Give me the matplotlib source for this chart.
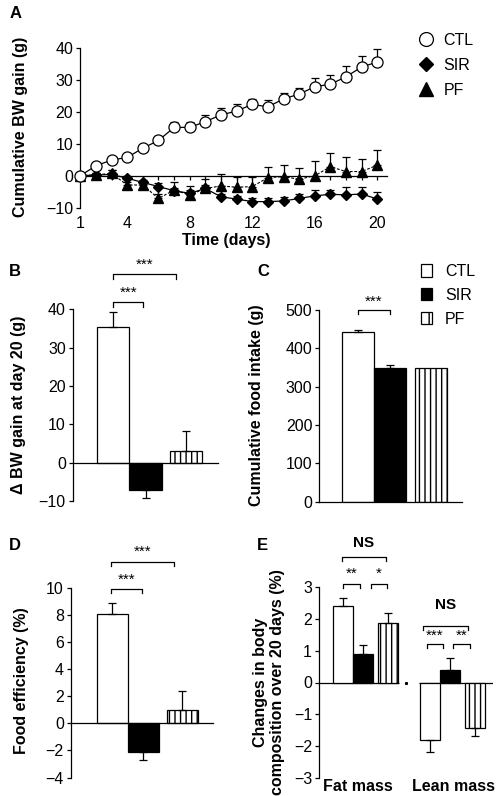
import numpy as np
import matplotlib
matplotlib.use("Agg")
import matplotlib.pyplot as plt
from matplotlib.lines import Line2D
from matplotlib.patches import Patch

plt.rcParams['font.family'] = ['Liberation Sans', 'DejaVu Sans']
plt.rcParams['hatch.linewidth'] = 1.0

# ---------------- data ----------------
days = list(range(1, 21))
day_ticks = [1, 4, 8, 12, 16, 20]
ctl_gain = [0, 3.1, 4.9, 5.7, 8.6, 11.0, 15.1, 15.1, 16.9, 19.0, 20.2, 22.3, 21.5, 24.0, 25.5, 27.8, 28.6, 30.9, 34.0, 35.5]
ctl_err = [0.3, 0.6, 0.6, 0.7, 0.9, 1.4, 1.7, 1.7, 2.2, 2.0, 2.2, 1.7, 2.0, 1.8, 2.0, 2.8, 2.8, 3.5, 3.5, 4.0]
sir_gain = [0, 0.2, 0.4, -0.8, -2.1, -3.4, -4.7, -5.5, -4.0, -6.6, -7.3, -8.1, -8.1, -7.9, -7.1, -6.3, -5.8, -6.0, -5.7, -7.3]
sir_err = [0.3, 0.5, 1.4, 0.8, 0.8, 1.0, 1.0, 1.0, 1.0, 1.0, 1.0, 1.0, 1.2, 1.3, 1.3, 1.8, 1.3, 2.4, 2.1, 2.1]
pf_gain = [0, 0.3, 0.7, -2.9, -2.9, -7.1, -4.5, -6.0, -4.0, -3.2, -3.6, -3.4, -0.6, -0.3, -1.1, 0.0, 2.8, 1.3, 1.3, 3.3]
pf_err = [0.3, 0.5, 1.0, 1.0, 1.0, 1.5, 2.6, 2.9, 3.0, 3.6, 3.3, 3.1, 3.4, 3.7, 3.4, 4.6, 4.2, 4.4, 3.9, 4.7]

groups = ['CTL', 'SIR', 'PF']
bw_day20 = [35.5, -7.1, 3.1]
bw_day20_err = [3.8, 2.2, 5.1]
food_intake = [442, 349, 349]
food_intake_err = [7, 7, 0]
food_eff = [8.04, -2.09, 0.98]
food_eff_err = [0.81, 0.61, 1.42]
comp_cats = ['Fat mass', 'Lean mass']
fat_change = [2.39, 0.90, 1.86]
fat_change_err = [0.27, 0.28, 0.33]
lean_change = [-1.81, 0.39, -1.41]
lean_change_err = [0.38, 0.39, 0.28]

# ---------------- layout helpers ----------------
W, H = 502, 796
fig = plt.figure(figsize=(W / 100, H / 100), dpi=100)


def rect(l, t, r, b):
    return [l / W, 1 - b / H, (r - l) / W, (b - t) / H]


def fx(x):
    return x / W


def fy(y):
    return 1 - y / H


LW = 0.9
TICK_FS = 11.5
LAB_FS = 11.5
STAR_FS = 11


def style_axes(ax):
    for s in ['top', 'right']:
        ax.spines[s].set_visible(False)
    for s in ['left', 'bottom']:
        ax.spines[s].set_linewidth(LW)
    ax.tick_params(axis='y', direction='out', length=3, width=LW, labelsize=TICK_FS, pad=2)


def oneway_err(vals, errs):
    lo = [e if v < 0 else 0 for v, e in zip(vals, errs)]
    hi = [e if v >= 0 else 0 for v, e in zip(vals, errs)]
    return [lo, hi]


def bars(ax, pos, vals, errs):
    styles = [dict(facecolor='white', hatch=None),
              dict(facecolor='black', hatch=None),
              dict(facecolor='white', hatch='|||')]
    for p, v, e, st in zip(pos, vals, errs, styles):
        ax.bar(p, v, width=1.0, color=st['facecolor'], edgecolor='black',
               linewidth=LW, hatch=st['hatch'], zorder=2)
        if e > 0:
            yerr = oneway_err([v], [e])
            ax.errorbar(p, v, yerr=[[yerr[0][0]], [yerr[1][0]]], fmt='none',
                        ecolor='black', elinewidth=LW, capsize=3, capthick=LW, zorder=3)


def bracket(ax, x0, x1, y, drop, label, ty, fs=STAR_FS, bold=False):
    ax.plot([x0, x0, x1, x1], [y - drop, y, y, y - drop], color='black', lw=LW,
            clip_on=False, zorder=4)
    ax.text((x0 + x1) / 2, ty, label, ha='center', va='center', fontsize=fs,
            fontweight='bold' if bold else 'normal', clip_on=False)


# ---------------- Panel A ----------------
axA = fig.add_axes(rect(80.3, 47.7, 386.7, 207.7))
style_axes(axA)
axA.spines['bottom'].set_position(('data', 0))
axA.set_xlim(1, 20.6)
axA.set_ylim(-10, 40)
axA.set_yticks([-10, 0, 10, 20, 30, 40])
axA.set_xticks(days)
axA.tick_params(axis='x', which='both', direction='out', length=3, width=LW,
                labelbottom=False)
for d in day_ticks:
    axA.text(d, -0.055, str(d), transform=axA.get_xaxis_transform(), ha='center', va='top',
             fontsize=TICK_FS)
axA.errorbar(days, pf_gain, yerr=oneway_err([1] * 20, pf_err), fmt='^--', color='black',
             mfc='black', mec='black', ms=7, lw=0.8, dashes=(2.5, 1.5),
             elinewidth=LW, capsize=3, capthick=LW, zorder=3, clip_on=False)
axA.errorbar(days, sir_gain, yerr=oneway_err([1] * 20, sir_err), fmt='D-', color='black',
             mfc='black', mec='black', ms=5.5, lw=LW,
             elinewidth=LW, capsize=3, capthick=LW, zorder=4, clip_on=False)
axA.errorbar(days, ctl_gain, yerr=oneway_err([1] * 20, ctl_err), fmt='o-', color='black',
             mfc='white', mec='black', ms=8, mew=LW, lw=LW,
             elinewidth=LW, capsize=3, capthick=LW, zorder=5, clip_on=False)
fig.text(fx(226), fy(240), 'Time (days)', ha='center', va='center',
         fontsize=LAB_FS, fontweight='bold')
fig.text(fx(21), fy(127), 'Cumulative BW gain (g)', rotation=90, ha='center', va='center',
         fontsize=LAB_FS, fontweight='bold')

legA = [Line2D([], [], marker='o', ls='none', mfc='white', mec='black', ms=10, mew=LW),
        Line2D([], [], marker='D', ls='none', mfc='black', mec='black', ms=7),
        Line2D([], [], marker='^', ls='none', mfc='black', mec='black', ms=10)]
fig.legend(legA, groups, loc='upper left', bbox_to_anchor=(fx(418), fy(33)),
           frameon=False, fontsize=11.5, borderpad=0, borderaxespad=0,
           handlelength=1.0, handletextpad=0.6, labelspacing=0.62)

# ---------------- Panel B ----------------
posB = [0, 1, 2.25]
axB = fig.add_axes(rect(72.7, 309.3, 218, 501))
style_axes(axB)
axB.spines['bottom'].set_position(('data', 0))
axB.set_xlim(-1.24, 3.23)
axB.set_ylim(-10, 40)
axB.set_yticks([-10, 0, 10, 20, 30, 40])
axB.set_xticks([])
bars(axB, posB, bw_day20, bw_day20_err)
bracket(axB, 0, 0.93, 42.0, 1.3, '***', 44.4)
bracket(axB, 0, 1.94, 49.2, 1.3, '***', 51.7)
fig.text(fx(19), fy(405), '\u0394 BW gain at day 20 (g)', rotation=90, ha='center', va='center',
         fontsize=LAB_FS, fontweight='bold')

# ---------------- Panel C ----------------
axC = fig.add_axes(rect(319.3, 310, 461.7, 501.7))
style_axes(axC)
axC.set_xlim(-1.2, 3.21)
axC.set_ylim(0, 500)
axC.set_yticks([0, 100, 200, 300, 400, 500])
axC.set_xticks([])
bars(axC, posB, food_intake, food_intake_err)
bracket(axC, 0, 0.99, 500.5, 10.5, '***', 522)
fig.text(fx(257), fy(405), 'Cumulative food intake (g)', rotation=90, ha='center', va='center',
         fontsize=LAB_FS, fontweight='bold')
legC = [Patch(facecolor='white', edgecolor='black', linewidth=LW),
        Patch(facecolor='black', edgecolor='black', linewidth=LW),
        Patch(facecolor='white', edgecolor='black', linewidth=LW, hatch='||')]
fig.legend(legC, groups, loc='upper left', bbox_to_anchor=(fx(421), fy(264)),
           frameon=False, fontsize=11.5, borderpad=0, borderaxespad=0,
           handlelength=0.7, handleheight=0.8, handletextpad=0.8, labelspacing=0.55)

# ---------------- Panel D ----------------
axD = fig.add_axes(rect(70.7, 587.7, 213, 777.5))
style_axes(axD)
axD.spines['bottom'].set_position(('data', 0))
axD.set_xlim(-1.33, 3.23)
axD.set_ylim(-4, 10)
axD.set_yticks([-4, -2, 0, 2, 4, 6, 8, 10])
axD.set_xticks([])
bars(axD, posB, food_eff, food_eff_err)
bracket(axD, -0.05, 0.955, 9.9, 0.32, '***', 10.6)
bracket(axD, -0.05, 1.97, 11.92, 0.32, '***', 12.65)
fig.text(fx(22), fy(681), 'Food efficiency (%)', rotation=90, ha='center', va='center',
         fontsize=LAB_FS, fontweight='bold')

# ---------------- Panel E ----------------
axE = fig.add_axes(rect(319, 586.7, 493, 778.3))
style_axes(axE)
axE.spines['bottom'].set_visible(False)
axE.set_xlim(-1.2, 7.5)
axE.set_ylim(-3, 3)
axE.set_yticks([-3, -2, -1, 0, 1, 2, 3])
axE.set_xticks([])
fat_pos = [0, 1, 2.25]
lean_pos = [4.35, 5.35, 6.6]
axE.hlines(0, -1.2, 2.8, color='black', lw=LW, zorder=1)
axE.hlines(0, 3.8, 7.5, color='black', lw=LW, zorder=1)
axE.plot([3.15], [0], marker='s', ms=1.2, color='black')
bars(axE, fat_pos, fat_change, fat_change_err)
bars(axE, lean_pos, lean_change, lean_change_err)
bracket(axE, -0.07, 2.15, 3.94, 0.13, 'NS', 4.37, fs=11, bold=True)
bracket(axE, 0.0, 0.85, 3.1, 0.13, '**', 3.42)
bracket(axE, 1.4, 2.2, 3.1, 0.13, '*', 3.42)
bracket(axE, 4.0, 6.27, 1.77, 0.13, 'NS', 2.43, fs=11, bold=True)
bracket(axE, 4.18, 5.0, 1.21, 0.13, '***', 1.46)
bracket(axE, 5.5, 6.35, 1.21, 0.13, '**', 1.46)
for xc, lab in zip([np.mean(fat_pos[:2]) + 0.25, np.mean(lean_pos) + 0.1], comp_cats):
    axE.text(xc, -0.005, lab, transform=axE.get_xaxis_transform(), ha='center', va='top',
             fontsize=LAB_FS, fontweight='bold')
fig.text(fx(269), fy(682), 'Changes in body\ncomposition over 20 days (%)', rotation=90,
         ha='center', va='center', fontsize=LAB_FS, fontweight='bold', linespacing=1.1,
         multialignment='center')

# ---------------- panel letters ----------------
for lab, x, y in [('A', 10, 13), ('B', 9, 271), ('C', 257, 271), ('D', 9, 545), ('E', 257, 545)]:
    fig.text(fx(x), fy(y), lab, ha='left', va='center', fontsize=12, fontweight='bold')

fig.savefig('out.png', dpi=100)
